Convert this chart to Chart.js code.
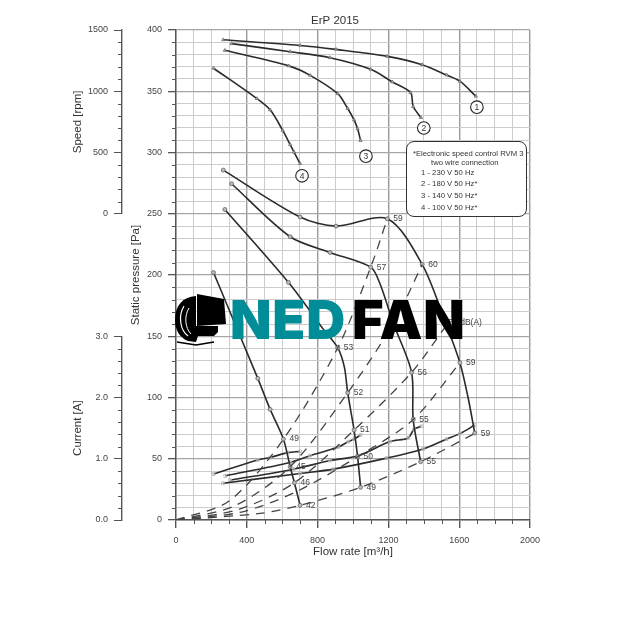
<!DOCTYPE html>
<html>
<head>
<meta charset="utf-8">
<style>
  html, body { margin: 0; background: #fff; }
  #wrap { position: relative; width: 640px; height: 640px; overflow: hidden; font-family: "Liberation Sans", sans-serif; }
  #graph { position: absolute; left: 0; top: 0; filter: blur(0.35px); }
  #note { position: absolute; left: 406px; top: 141px; width: 119px; height: 74px; background: #fff; border: 1px solid #333; border-radius: 8px; font-size: 7.7px; color: #333; filter: blur(0.25px); }
  #note div { position: absolute; white-space: nowrap; }
  #logo { position: absolute; left: 174px; top: 292px; }
  .brand { position: absolute; top: 285px; font: 900 54px Inter, sans-serif; letter-spacing: 0.8px; line-height: 70px; white-space: nowrap; }
</style>
<script src="https://cdn.jsdelivr.net/npm/chart.js@4"></script>
</head>
<body>
<div id="wrap">
  <canvas id="graph" width="640" height="640"></canvas>
  <div id="note">
    <div style="left:6px;top:7px">*Electronic speed control RVM 3</div>
    <div style="left:24px;top:16px">two wire connection</div>
    <div style="left:14px;top:26px">1 - 230 V 50 Hz</div>
    <div style="left:14px;top:37px">2 - 180 V 50 Hz*</div>
    <div style="left:14px;top:49px">3 - 140 V 50 Hz*</div>
    <div style="left:14px;top:61px">4 - 100 V 50 Hz*</div>
  </div>
  <svg id="logo" width="58" height="56" viewBox="0 0 58 56">
    <path d="M22 4 C8 5 1 14 1 28 C1 38 6 46 14 49 L22 50 L24 44 L40 44 L44 40 L44 34 L22 34 Z" fill="#000"/>
    <path d="M23 2 L50 7 L52 32 L23 34 Z" fill="#000"/>
    <path d="M10 14 C4 24 6 38 14 44" fill="none" stroke="#fff" stroke-width="1.2"/>
    <path d="M15 16 C10 24 11 36 17 42" fill="none" stroke="#fff" stroke-width="1"/>
    <path d="M3 50 L22 53 L40 50" fill="none" stroke="#000" stroke-width="1.6"/>
  </svg>
  <div class="brand" style="left:230px;color:#008d98">NED</div>
  <div class="brand" style="left:352px;color:#000">FAN</div>
</div>
<script>
// flow rate [m3/h] and values
const speedFlow1 = [267, 701, 904, 1194, 1391, 1528, 1604, 1694];
const speed1 = [1420, 1374, 1342, 1285, 1217, 1133, 1082, 959];
const speedFlow2 = [314, 645, 870, 1100, 1222, 1325, 1340, 1384];
const speed2 = [1389, 1323, 1274, 1179, 1076, 989, 875, 785];
const speedFlow3 = [276, 637, 758, 914, 970, 1006, 1026, 1043];
const speed3 = [1334, 1207, 1130, 980, 859, 766, 693, 598];
const speedFlow4 = [212, 457, 532, 603, 645, 667, 701];
const speed4 = [1188, 940, 848, 680, 565, 503, 410];

const pressFlow1 = [267, 701, 904, 1194, 1391, 1528, 1604, 1650, 1688];
const press1 = [285.6, 247.3, 239.9, 245.9, 208.6, 159, 128.4, 100, 71];
const pressFlow2 = [314, 645, 870, 1100, 1152, 1228, 1331, 1340, 1382];
const press2 = [274.5, 231.2, 218.4, 206.4, 193, 160.5, 120.5, 82, 47.6];
const pressFlow3 = [276, 635, 833, 914, 951, 970, 1006, 1026, 1043];
const press3 = [253.5, 194, 155.6, 140.6, 125, 103.9, 73.4, 51.7, 26.7];
const pressFlow4 = [212, 462, 532, 607, 645, 669, 701];
const press4 = [202, 115.6, 90.3, 66, 43.5, 30.4, 12];
const unmarkedFlow = [1650, 1152, 833, 951];

const currFlow1 = [265, 701, 889, 1190, 1397, 1528, 1604, 1688];
const curr1 = [0.6, 0.76, 0.83, 1.01, 1.16, 1.32, 1.41, 1.55];
const currFlow2 = [306, 664, 870, 1030, 1209, 1312, 1344, 1387];
const curr2 = [0.65, 0.83, 0.97, 1.05, 1.28, 1.34, 1.48, 1.53];
const currFlow3 = [278, 645, 758, 917, 974, 1006, 1044];
const curr3 = [0.72, 0.94, 1.05, 1.19, 1.28, 1.32, 1.39];
const currFlow4 = [212, 462, 532, 630, 701];
const curr4 = [0.75, 0.98, 1.02, 1.1, 1.12];

const sysFlowA = [0, 300, 607, 914, 1100, 1194];
const sysA = [0, 15.5, 66, 140.6, 206.4, 245.9];
const sysFlowB = [0, 330, 645, 970, 1228, 1391];
const sysB = [0, 11.5, 43.5, 103.9, 160.5, 208.6];
const sysFlowC = [0, 350, 669, 1006, 1331, 1528];
const sysC = [0, 8.5, 30.4, 73.4, 120.5, 159];
const sysFlowD = [0, 370, 678, 1026, 1340, 1604];
const sysD = [0, 6.5, 23, 51.7, 82, 128.4];
const sysFlowE = [0, 475, 701, 1043, 1382, 1688];
const sysE = [0, 5.4, 12, 26.7, 47.6, 70.7];

const noiseText = ["59", "60", "58 dB(A)", "59", "59", "57", "56", "55", "55", "53", "52", "51", "50", "49", "49", "45", "46", "42"];
const noiseFlow = [1194, 1391, 1505, 1604, 1688, 1100, 1331, 1340, 1382, 914, 970, 1006, 1026, 1043, 607, 645, 669, 701];
const noisePress = [245.9, 208.6, 161, 128.4, 70.7, 206.4, 120.5, 82, 47.6, 140.6, 103.9, 73.4, 51.7, 26.7, 66, 43.5, 30.4, 12];

const circleText = ["1", "2", "3", "4"];
const circleFlow = [1700, 1400, 1073, 712];
const circlePress = [337, 320, 297, 281];

const ink = "#2b2b2b";
const axisInk = "#555";

function toPoints(xs, ys) {
  return xs.map((x, i) => ({ x: x, y: ys[i] }));
}

function speedSet(xs, ys) {
  return { data: toPoints(xs, ys), yAxisID: "speed", showLine: true, tension: 0.3, borderColor: ink, borderWidth: 1.6, pointStyle: "triangle", pointRadius: 1.9, pointBorderColor: "#666", pointBackgroundColor: "#aaa", pointBorderWidth: 0.7 };
}

function pressSet(xs, ys) {
  return { data: toPoints(xs, ys), yAxisID: "pressure", showLine: true, tension: 0.3, borderColor: ink, borderWidth: 1.6, pointStyle: "circle", pointRadius: (c) => (unmarkedFlow.includes(c.raw.x) ? 0 : 2), pointBorderColor: "#555", pointBackgroundColor: "#bbb", pointBorderWidth: 0.7 };
}

function currSet(xs, ys) {
  return { data: toPoints(xs, ys), yAxisID: "current", showLine: true, tension: 0.3, borderColor: ink, borderWidth: 1.6, pointStyle: "rect", pointRadius: 2, pointBorderColor: "#aaa", pointBackgroundColor: "rgba(255,255,255,0.4)", pointBorderWidth: 0.7 };
}

function sysSet(xs, ys) {
  return { data: toPoints(xs, ys), yAxisID: "pressure", showLine: true, tension: 0.3, borderColor: "#444", borderWidth: 1.3, borderDash: [9, 7], pointRadius: 0 };
}

// short ticks for the values without a label, and the notes in the plot
const extras = {
  id: "extras",
  afterDatasetsDraw(chart) {
    const ctx = chart.ctx;
    const sc = chart.scales;
    ctx.save();
    ctx.strokeStyle = axisInk;
    ctx.lineWidth = 1;
    [["speed", 500], ["current", 1], ["pressure", 50]].forEach(([id, every]) => {
      const s = sc[id];
      s.ticks.forEach((t) => {
        if (Math.abs(t.value / every - Math.round(t.value / every)) > 1e-6) {
          const p = Math.round(s.getPixelForValue(t.value)) + 0.5;
          ctx.beginPath();
          ctx.moveTo(s.right - 4, p);
          ctx.lineTo(s.right, p);
          ctx.stroke();
        }
      });
    });
    sc.x.ticks.forEach((t) => {
      if (t.value % 400 !== 0) {
        const p = Math.round(sc.x.getPixelForValue(t.value)) + 0.5;
        ctx.beginPath();
        ctx.moveTo(p, sc.x.top);
        ctx.lineTo(p, sc.x.top + 4);
        ctx.stroke();
      }
    });

    ctx.fillStyle = "#333";
    ctx.font = '11.5px "Liberation Sans"';
    ctx.textAlign = "center";
    ctx.textBaseline = "middle";
    ctx.fillText("ErP 2015", 335, 21);

    ctx.fillStyle = "#444";
    ctx.font = '8.5px "Liberation Sans"';
    ctx.textAlign = "left";
    noiseText.forEach((txt, i) => {
      ctx.fillText(txt, sc.x.getPixelForValue(noiseFlow[i]) + 6, sc.pressure.getPixelForValue(noisePress[i]));
    });

    ctx.textAlign = "center";
    circleText.forEach((txt, i) => {
      const cx = sc.x.getPixelForValue(circleFlow[i]);
      const cy = sc.pressure.getPixelForValue(circlePress[i]);
      ctx.beginPath();
      ctx.arc(cx, cy, 6.3, 0, Math.PI * 2);
      ctx.fillStyle = "#fff";
      ctx.fill();
      ctx.strokeStyle = "#222";
      ctx.lineWidth = 1.1;
      ctx.stroke();
      ctx.fillStyle = "#333";
      ctx.fillText(txt, cx, cy + 0.5);
    });
    ctx.restore();
  },
};

const sideTicks = (every, digits) => ({
  stepSize: every / 5,
  autoSkip: false,
  padding: 6,
  color: "#444",
  font: { size: 9, family: "Liberation Sans" },
  callback: (v) => (Math.abs(v / every - Math.round(v / every)) < 1e-6 ? v.toFixed(digits) : ""),
});

const sideGrid = (every) => ({
  drawOnChartArea: false,
  tickLength: 8,
  tickColor: (c) => (Math.abs(c.tick.value / every - Math.round(c.tick.value / every)) < 1e-6 ? axisInk : "rgba(0,0,0,0)"),
});

const sideTitle = (text, pad) => ({
  display: true,
  text: text,
  color: "#333",
  padding: { top: pad, bottom: 0 },
  font: { size: 11.5, family: "Liberation Sans" },
});

new Chart(document.getElementById("graph"), {
  type: "scatter",
  data: {
    datasets: [
      sysSet(sysFlowA, sysA), sysSet(sysFlowB, sysB), sysSet(sysFlowC, sysC), sysSet(sysFlowD, sysD), sysSet(sysFlowE, sysE),
      speedSet(speedFlow1, speed1), speedSet(speedFlow2, speed2), speedSet(speedFlow3, speed3), speedSet(speedFlow4, speed4),
      pressSet(pressFlow1, press1), pressSet(pressFlow2, press2), pressSet(pressFlow3, press3), pressSet(pressFlow4, press4),
      currSet(currFlow1, curr1), currSet(currFlow2, curr2), currSet(currFlow3, curr3), currSet(currFlow4, curr4),
    ],
  },
  plugins: [extras],
  options: {
    responsive: false,
    animation: false,
    layout: { padding: { left: 66, right: 110, top: 30, bottom: 81 } },
    plugins: {
      legend: { display: false },
      tooltip: { enabled: false },
      title: { display: false },
    },
    scales: {
      x: {
        type: "linear",
        min: 0,
        max: 2000,
        ticks: {
          stepSize: 100,
          autoSkip: false,
          maxRotation: 0,
          padding: 7,
          color: "#444",
          font: { size: 9, family: "Liberation Sans" },
          callback: (v) => (v % 400 === 0 ? v : ""),
        },
        grid: {
          tickLength: 8,
          color: (c) => (c.tick.value % 400 === 0 ? "#9a9a9a" : "#cccccc"),
          lineWidth: (c) => (c.tick.value % 400 === 0 ? 1.4 : 1),
          tickColor: (c) => (c.tick.value % 400 === 0 ? axisInk : "rgba(0,0,0,0)"),
        },
        border: { color: axisInk, width: 1.4 },
        title: { display: true, text: "Flow rate [m³/h]", color: "#333", padding: { top: 2, bottom: 0 }, font: { size: 11.5, family: "Liberation Sans" } },
        afterFit: (s) => { s.height = 39; },
      },
      pressure: {
        position: "left",
        weight: 1,
        min: 0,
        max: 400,
        ticks: sideTicks(50, 0),
        grid: {
          tickLength: 8,
          color: (c) => (c.tick.value % 50 === 0 ? "#a6a6a6" : "#cccccc"),
          lineWidth: (c) => (c.tick.value % 50 === 0 ? 1.3 : 1),
          tickColor: (c) => (c.tick.value % 50 === 0 ? axisInk : "rgba(0,0,0,0)"),
        },
        border: { color: axisInk, width: 1.4 },
        title: sideTitle("Static pressure [Pa]", 7),
        afterFit: (s) => { s.width = 54; },
      },
      current: {
        position: "left",
        stack: "outer",
        stackWeight: 1.5,
        weight: 2,
        min: 0,
        max: 3,
        ticks: sideTicks(1, 1),
        grid: sideGrid(1),
        border: { color: axisInk, width: 1.4 },
        title: sideTitle("Current [A]", 5),
        afterFit: (s) => { s.width = 56; },
      },
      gap: {
        position: "left",
        stack: "outer",
        stackWeight: 1,
        weight: 2,
        min: 0,
        max: 1,
        ticks: { display: false },
        grid: { display: false },
        border: { display: false },
        afterFit: (s) => { s.width = 56; },
      },
      speed: {
        position: "left",
        stack: "outer",
        stackWeight: 1.5,
        weight: 2,
        min: 0,
        max: 1500,
        ticks: sideTicks(500, 0),
        grid: sideGrid(500),
        border: { color: axisInk, width: 1.4 },
        title: sideTitle("Speed [rpm]", 5),
        afterFit: (s) => { s.width = 56; },
      },
    },
  },
});
</script>
</body>
</html>
